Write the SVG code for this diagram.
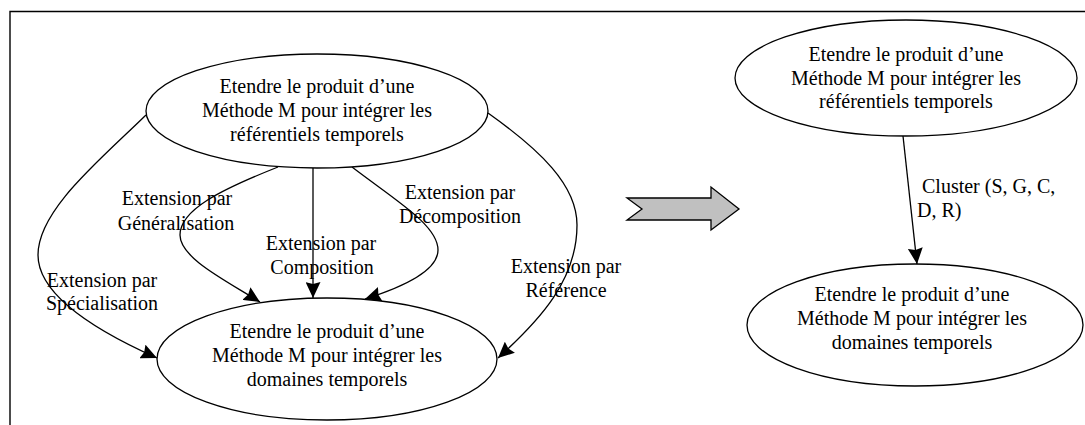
<svg xmlns="http://www.w3.org/2000/svg" width="1085" height="425" viewBox="0 0 1085 425">
<style>
.frame{stroke:#000;stroke-width:1.4;fill:none}
.node ellipse{fill:#fff;stroke:#000;stroke-width:1.3}
.t{font-family:"Liberation Serif","Times New Roman",serif;font-size:20px;fill:#000;text-anchor:middle}
.lbl{font-family:"Liberation Serif","Times New Roman",serif;font-size:20px;fill:#000}
.c{fill:none;stroke:#000;stroke-width:1.3;marker-end:url(#ah)}
</style>
<defs>
<marker id="ah" viewBox="0 0 16 15" refX="16" refY="7.5" markerWidth="16" markerHeight="15" markerUnits="userSpaceOnUse" orient="auto">
<path d="M0,0 L16,7.5 L0,15 L2,7.5 z" fill="#000"/>
</marker>
</defs>
<rect width="1085" height="425" fill="#fff"/>
<path class="frame" d="M10,425 V11.5 H1085"/>

<g id="connectors">
<path class="c" d="M146,115 C100,160 38,210 38,255 C38,300 110,337 157,358"/>
<path class="c" d="M278,167 C220,190 180,210 180,235 C180,258 225,280 260,302"/>
<path class="c" d="M313,168 V298"/>
<path class="c" d="M352,167 C395,200 438,225 438,250 C438,272 400,288 365,299"/>
<path class="c" d="M488,113 C540,150 577,185 577,225 C577,280 540,320 498,358"/>
<path class="c" d="M903,136 L917,264"/>
</g>

<g id="labels">
<text class="t" x="177" y="205">Extension par</text>
<text class="t" x="176" y="230">Généralisation</text>
<text class="t" x="321" y="250">Extension par</text>
<text class="t" x="322" y="274">Composition</text>
<text class="t" x="102" y="287">Extension par</text>
<text class="t" x="102" y="310">Spécialisation</text>
<text class="t" x="460" y="199">Extension par</text>
<text class="t" x="460" y="223">Décomposition</text>
<text class="t" x="566" y="273">Extension par</text>
<text class="t" x="566" y="297">Référence</text>
<text class="lbl" x="922" y="193">Cluster (S, G, C,</text>
<text class="lbl" x="917" y="217">D, R)</text>
</g>

<g id="n_top_left" class="node">
<ellipse cx="317" cy="111" rx="171" ry="57"/>
<text class="t" x="317" y="93">Etendre le produit d’une</text>
<text class="t" x="317" y="117">Méthode M pour intégrer les</text>
<text class="t" x="317" y="141">référentiels temporels</text>
</g>

<g id="n_bottom_left" class="node">
<ellipse cx="327" cy="359" rx="170" ry="61"/>
<text class="t" x="327" y="338">Etendre le produit d’une</text>
<text class="t" x="327" y="362">Méthode M pour intégrer les</text>
<text class="t" x="327" y="386">domaines temporels</text>
</g>

<g id="n_top_right" class="node">
<ellipse cx="906" cy="78" rx="171" ry="58"/>
<text class="t" x="906" y="61">Etendre le produit d’une</text>
<text class="t" x="906" y="85">Méthode M pour intégrer les</text>
<text class="t" x="906" y="108">référentiels temporels</text>
</g>

<g id="n_bottom_right" class="node">
<ellipse cx="915" cy="325" rx="168" ry="61"/>
<text class="t" x="912" y="301">Etendre le produit d’une</text>
<text class="t" x="912" y="325">Méthode M pour intégrer les</text>
<text class="t" x="912" y="349">domaines temporels</text>
</g>

<g id="block_arrow">
<polygon points="627,198 711,198 711,187 739,209 711,230 711,220 627,220 642,209" fill="#c0c0c0" stroke="#000" stroke-width="1.3"/>
</g>
</svg>
